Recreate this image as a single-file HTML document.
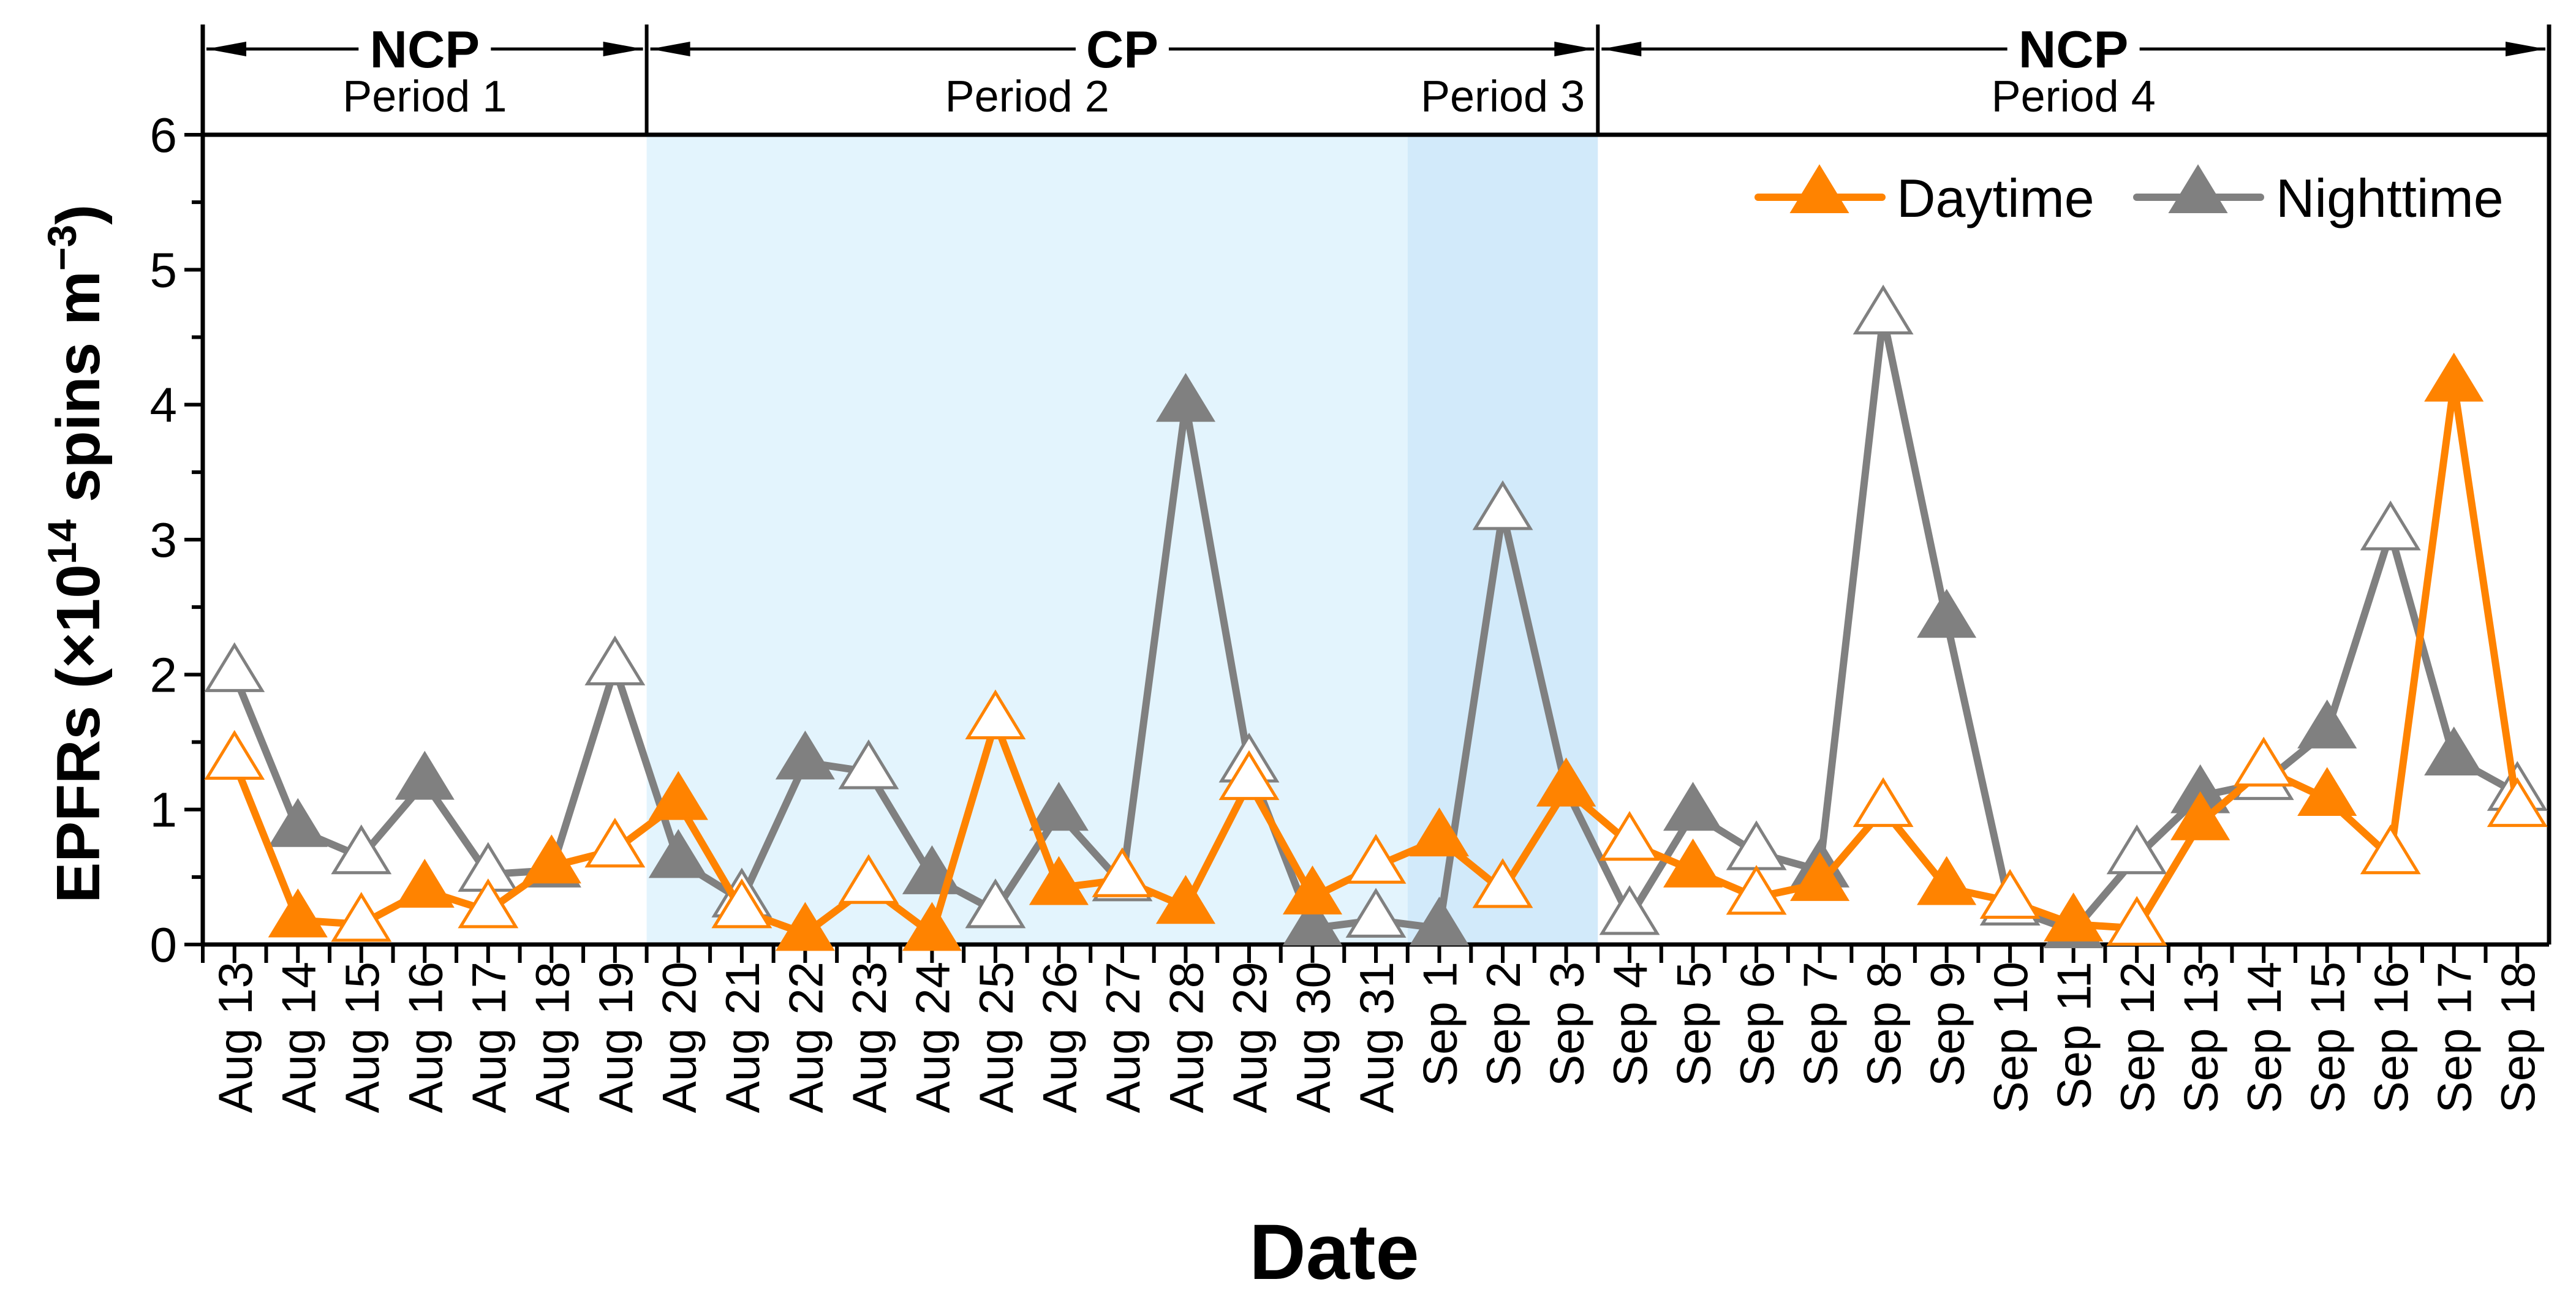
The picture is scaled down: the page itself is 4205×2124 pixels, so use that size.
<!DOCTYPE html>
<html><head><meta charset="utf-8"><style>
html,body{margin:0;padding:0;background:#fff;}
svg{display:block;font-family:"Liberation Sans",Arial,sans-serif;}
</style></head><body>
<svg id="chart" width="4205" height="2124" viewBox="0 0 4205 2124" xmlns="http://www.w3.org/2000/svg">
<g id="bg"></g>
<g id="axes"></g>
<g id="series"></g>
<g id="header"></g>
<g id="legend"></g>
</svg>
<script>
const categories = ["Aug 13","Aug 14","Aug 15","Aug 16","Aug 17","Aug 18","Aug 19","Aug 20","Aug 21","Aug 22","Aug 23","Aug 24","Aug 25","Aug 26","Aug 27","Aug 28","Aug 29","Aug 30","Aug 31","Sep 1","Sep 2","Sep 3","Sep 4","Sep 5","Sep 6","Sep 7","Sep 8","Sep 9","Sep 10","Sep 11","Sep 12","Sep 13","Sep 14","Sep 15","Sep 16","Sep 17","Sep 18"];
const daytime = [1.35,0.18,0.15,0.4,0.25,0.58,0.7,1.05,0.25,0.08,0.43,0.08,1.65,0.42,0.48,0.28,1.2,0.35,0.58,0.78,0.4,1.15,0.75,0.55,0.35,0.45,1.0,0.42,0.32,0.15,0.12,0.9,1.3,1.08,0.65,4.15,1.0];
const nighttime = [2.0,0.85,0.65,1.2,0.52,0.55,2.05,0.62,0.33,1.35,1.28,0.5,0.25,0.97,0.45,4.0,1.33,0.12,0.18,0.12,3.2,1.15,0.2,0.97,0.68,0.55,4.65,2.4,0.27,0.1,0.65,1.1,1.2,1.58,3.05,1.38,1.12];
const filledFlags = [0,1,0,1,0,1,0,1,0,1,0,1,0,1,0,1,0,1,0,1,0,1,0,1,0,1,0,1,0,1,0,1,0,1,0,1,0];
const yTicks = [0,1,2,3,4,5,6];
const periodNames = ["Period 1","Period 2","Period 3","Period 4"];
const periodBounds = [-0.5,6.5,18.5,21.5,36.5];
const groupNames = ["NCP","CP","NCP"];
const groupBounds = [-0.5,6.5,21.5,36.5];

const NS="http://www.w3.org/2000/svg";
const X0=331,X1=4161,Y0=1542,Y1=220,HT=40;
const xs=i=>X0+(i+0.5)*(X1-X0)/37;
const ys=v=>Y0-v*(Y0-Y1)/6;
function mk(tag,attrs,parent,text){const e=document.createElementNS(NS,tag);for(const k in attrs)e.setAttribute(k,attrs[k]);if(text!==undefined)e.textContent=text;parent.appendChild(e);return e;}
const bg=document.getElementById('bg'),axes=document.getElementById('axes'),ser=document.getElementById('series'),hdr=document.getElementById('header'),leg=document.getElementById('legend');

let r=mk('rect',{x:xs(periodBounds[1]),y:Y1,width:xs(periodBounds[2])-xs(periodBounds[1]),height:Y0-Y1,fill:'#e3f4fd'},bg);


r=mk('rect',{x:xs(periodBounds[2]),y:Y1,width:xs(periodBounds[3])-xs(periodBounds[2]),height:Y0-Y1,fill:'#d2eafa'},bg);



let a=mk('path',{d:`M${X0},${Y1}H${X1}M${X0},${Y0}H${X1}M${X0},${HT}V${Y0}M${X1},${HT}V${Y0}`,stroke:'#000','stroke-width':7,fill:'none'},axes);


yTicks.forEach(v=>{
  mk('line',{x1:X0-30,x2:X0,y1:ys(v),y2:ys(v),stroke:'#000','stroke-width':6},axes);
  if(v<6) mk('line',{x1:X0-18,x2:X0,y1:ys(v+0.5),y2:ys(v+0.5),stroke:'#000','stroke-width':6},axes);
  const t=mk('text',{x:X0-42,y:ys(v)+28,'text-anchor':'end','font-size':80},axes,String(v));
  
  
});
categories.forEach((c,i)=>{
  mk('line',{x1:xs(i),x2:xs(i),y1:Y0,y2:Y0+30,stroke:'#000','stroke-width':6},axes);
  mk('line',{x1:xs(i-0.5),x2:xs(i-0.5),y1:Y0,y2:Y0+30,stroke:'#000','stroke-width':6},axes);
  const t=mk('text',{x:0,y:0,'text-anchor':'end','font-size':78,transform:`translate(${xs(i)+28},1570) rotate(-90)`},axes,c);
  
  
});
let t=mk('text',{x:0,y:0,'text-anchor':'middle','font-size':100,'font-weight':'bold',transform:'translate(162,904) rotate(-90)'},axes);


t.innerHTML='EPFRs (×10<tspan dy="-38" font-size="66">14</tspan><tspan dy="38"> spins m</tspan><tspan dy="-38" font-size="66">−3</tspan><tspan dy="38">)</tspan>';
t=mk('text',{x:2178,y:2088,'text-anchor':'middle','font-size':128,'font-weight':'bold'},axes,'Date');



function tri(cx,cy){return `M${cx},${cy-48}L${cx+45},${cy+26}L${cx-45},${cy+26}Z`;}
function drawSeries(vals,color,name){
  const g=mk('g',{},ser);
  
  
  const l=mk('polyline',{points:vals.map((v,i)=>xs(i)+','+ys(v)).join(' '),fill:'none',stroke:color,'stroke-width':12,'stroke-linejoin':'round'},g);
  
  
  vals.forEach((v,i)=>{
    const f=filledFlags[i];
    const p=mk('path',{d:tri(xs(i),ys(v)),fill:f?color:'#fff',stroke:color,'stroke-width':f?4:5},g);
    
    
  });
}
drawSeries(nighttime,'#808080','nighttime');
drawSeries(daytime,'#ff8300','daytime');

for(let k=1;k<groupBounds.length-1;k++) mk('line',{x1:xs(groupBounds[k]),x2:xs(groupBounds[k]),y1:HT,y2:Y1,stroke:'#000','stroke-width':6},hdr);
groupNames.forEach((n,k)=>{
  const xa=xs(groupBounds[k])+6,xb=xs(groupBounds[k+1])-6,xc=(xa+xb)/2,y=80;
  const w=n.length*64+24;
  mk('path',{d:`M${xa},${y}H${xc-w/2}M${xc+w/2},${y}H${xb}`,stroke:'#000','stroke-width':5},hdr);
  mk('path',{d:`M${xa},${y}L${xa+65},${y-12}L${xa+65},${y+12}Z M${xb},${y}L${xb-65},${y-12}L${xb-65},${y+12}Z`,fill:'#000'},hdr);
  const tt=mk('text',{x:xc,y:y+30,'text-anchor':'middle','font-size':85,'font-weight':'bold'},hdr,n);
  
  
});
periodNames.forEach((n,k)=>{
  const xc=(xs(periodBounds[k])+xs(periodBounds[k+1]))/2;
  const tt=mk('text',{x:xc,y:182,'text-anchor':'middle','font-size':72},hdr,n);
  
  
});

function legItem(x1,x2,cx,tx,color,label,name){
  const g=mk('g',{},leg);
  
  
  mk('line',{x1:x1,x2:x2,y1:322,y2:322,stroke:color,'stroke-width':12,'stroke-linecap':'round'},g);
  mk('path',{d:tri(cx,320),fill:color,stroke:color,'stroke-width':4},g);
  mk('text',{x:tx,y:354,'font-size':88},g,label);
}
legItem(2870,3072,2970,3096,'#ff8300','Daytime','legend-daytime');
legItem(3488,3690,3588,3715,'#808080','Nighttime','legend-nighttime');
</script>
</body></html>
